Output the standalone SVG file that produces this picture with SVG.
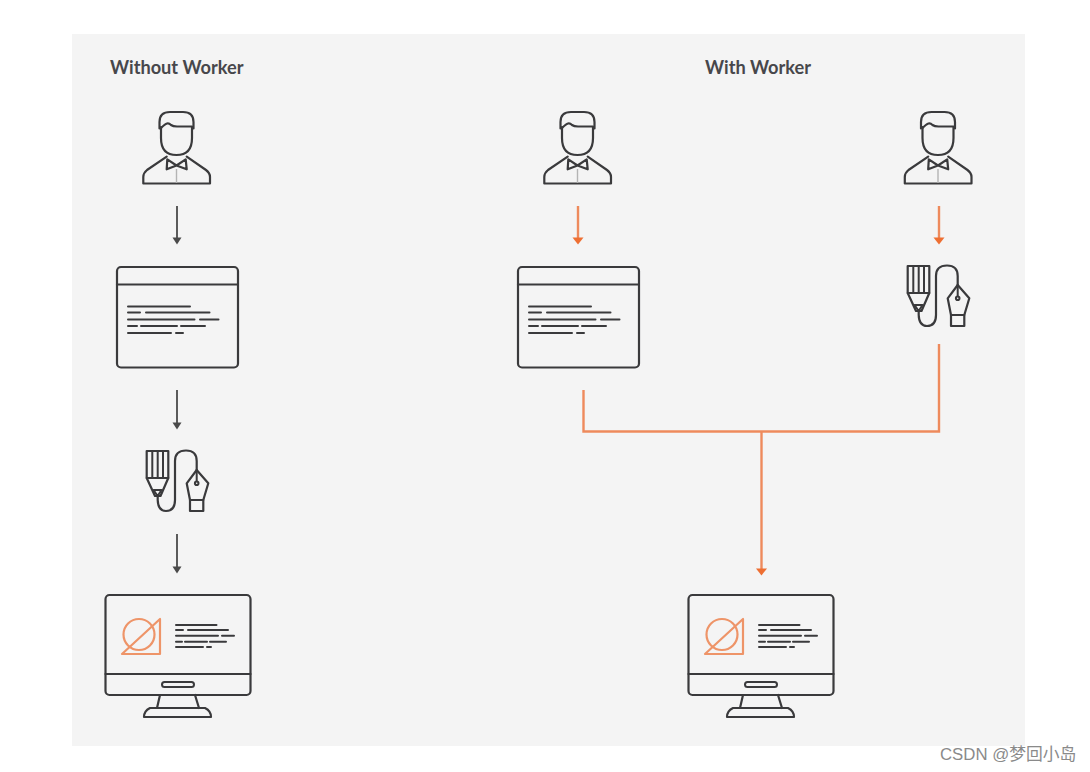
<svg xmlns="http://www.w3.org/2000/svg" width="1090" height="772" viewBox="0 0 1090 772">
  <style>
    .ink { fill: none; stroke: #3a3a3c; stroke-width: 2.2; stroke-linecap: round; stroke-linejoin: round; }
    .thin { fill: none; stroke: #3a3a3c; stroke-width: 2; stroke-linecap: round; stroke-linejoin: round; }
    .seam { fill: none; stroke: #b4b4b4; stroke-width: 1.4; }
    .accent { fill: none; stroke: #ee9468; stroke-width: 2.2; stroke-linecap: round; stroke-linejoin: round; }
    .link-dark { fill: none; stroke: #4a4a4a; stroke-width: 1.8; }
    .link-orange { fill: none; stroke: #ee8a5c; stroke-width: 2.4; }
    .title { font-family: "Lato", "Liberation Sans", sans-serif; font-size: 18.2px; font-weight: 700; fill: #47474b; }
    .mark { font-family: "Liberation Sans", "Noto Sans CJK SC", sans-serif; font-size: 16.8px; fill: #8a8a8a; }
  </style>
  <defs>
    <path id="head-dark" d="M-4.500 -3.500L4.500 -3.500L0 3.500Z" fill="#4a4a4a"/>
    <path id="head-orange" d="M-5.500 -3.500L5.500 -3.500L0 3.500Z" fill="#ee6f32"/>

    <g id="person">
      <path class="ink" d="M159.500 128.500V122Q159.500 112 170 112H183Q193.500 112 193.500 122V128.500"/>
      <path class="ink" d="M161 127V138Q161 155 176.500 155Q192 155 192 138V127"/>
      <path class="ink" d="M161 128Q165 124 167 123.500Q169 123 171 125Q173 126.500 177 126.500H192"/>
      <path class="ink" d="M166.700 156.700L147 170Q143.300 173 143.300 177V183.500H210V177Q210 173 206 170L186.700 156.700"/>
      <path class="ink" d="M166.700 169.300L167.300 159.300L176.500 165.500L185.700 159.300L186.700 169.300L176.500 165.500Z"/>
      <path class="seam" d="M176.500 169V183"/>
    </g>

    <g id="window">
      <rect class="ink" x="117" y="267" width="121" height="100.500" rx="4"/>
      <path class="ink" d="M117 284.500H238"/>
      <path class="thin" d="M128 306.500H190M128 312.500H140M146 312.500H209.500M128 319.500H194.500M200 319.500H218.500M128 326H137M141 326H177M181 326H205M128 333H171M176 333H183"/>
    </g>

    <g id="pen">
      <path class="ink" d="M146.700 451H168.300V478L160.500 496H155L146.700 478Z"/>
      <path class="thin" d="M152.300 451V478M157.700 451V478M163 451V478M146.700 478H168.300"/>
      <path class="thin" d="M153.500 490H161.500L157.700 496Z"/>
      <path class="ink" d="M157.700 496.500V500Q158 511 166 511Q175 511 175 500V461Q175 450.500 186 450.500Q196.700 450.500 196.700 461V470"/>
      <path class="ink" d="M196.700 470L186.700 483.300L190 500H203.300L208.300 483.300Z"/>
      <path class="thin" d="M196.700 470V481"/>
      <circle class="thin" cx="196.700" cy="483.300" r="1.800"/>
      <rect class="ink" x="190" y="500" width="13.300" height="11"/>
    </g>

    <g id="monitor">
      <rect class="ink" x="105.500" y="595" width="145" height="100" rx="4"/>
      <path class="ink" d="M105.500 674H250.500"/>
      <rect class="thin" x="162" y="682" width="32" height="5" rx="2.500"/>
      <path class="ink" d="M160 695L157 708M195 695L199 708"/>
      <path class="ink" d="M150 708H205Q211 711 211 717H144Q144 711 150 708Z"/>
      <circle class="accent" cx="139" cy="634.500" r="15.500"/>
      <path class="accent" d="M160 619V654H122Z"/>
      <path class="thin" d="M176 625H216.500M176 630H183M188 630H228M176 635.700H218M222 635.700H234M176 641.700H182M185 641.700H207M210 641.700H226M176 647H203M207 647H211"/>
    </g>
  </defs>

  <rect width="1090" height="772" fill="#ffffff"/>
  <rect x="72" y="34" width="953" height="712" fill="#f4f4f4"/>

  <text class="title" x="110" y="74">Without Worker</text>
  <text class="title" x="705" y="74">With Worker</text>

  <g id="connectors">
    <path class="link-dark" d="M177 206V241"/>
    <use href="#head-dark" x="177" y="241"/>
    <path class="link-dark" d="M177 390V426"/>
    <use href="#head-dark" x="177" y="426"/>
    <path class="link-dark" d="M177 534V570"/>
    <use href="#head-dark" x="177" y="570"/>
    <path class="link-orange" d="M578 206V241"/>
    <use href="#head-orange" x="578" y="241"/>
    <path class="link-orange" d="M939 206V241"/>
    <use href="#head-orange" x="939" y="241"/>
    <path class="link-orange" d="M583.500 390V431.500H939V344"/>
    <path class="link-orange" d="M761.500 431.500V572"/>
    <use href="#head-orange" x="761.500" y="572"/>
  </g>

  <g id="user-a"><use href="#person"/></g>
  <g id="app-a"><use href="#window"/></g>
  <g id="worker-a"><use href="#pen"/></g>
  <g id="display-a"><use href="#monitor"/></g>

  <g id="user-b"><use href="#person" x="401"/></g>
  <g id="user-c"><use href="#person" x="761.500"/></g>
  <g id="app-b"><use href="#window" x="401"/></g>
  <g id="worker-b"><use href="#pen" x="761" y="-185"/></g>
  <g id="display-b"><use href="#monitor" x="583"/></g>

  <text class="mark" x="940" y="760">CSDN @梦回小岛</text>
</svg>
